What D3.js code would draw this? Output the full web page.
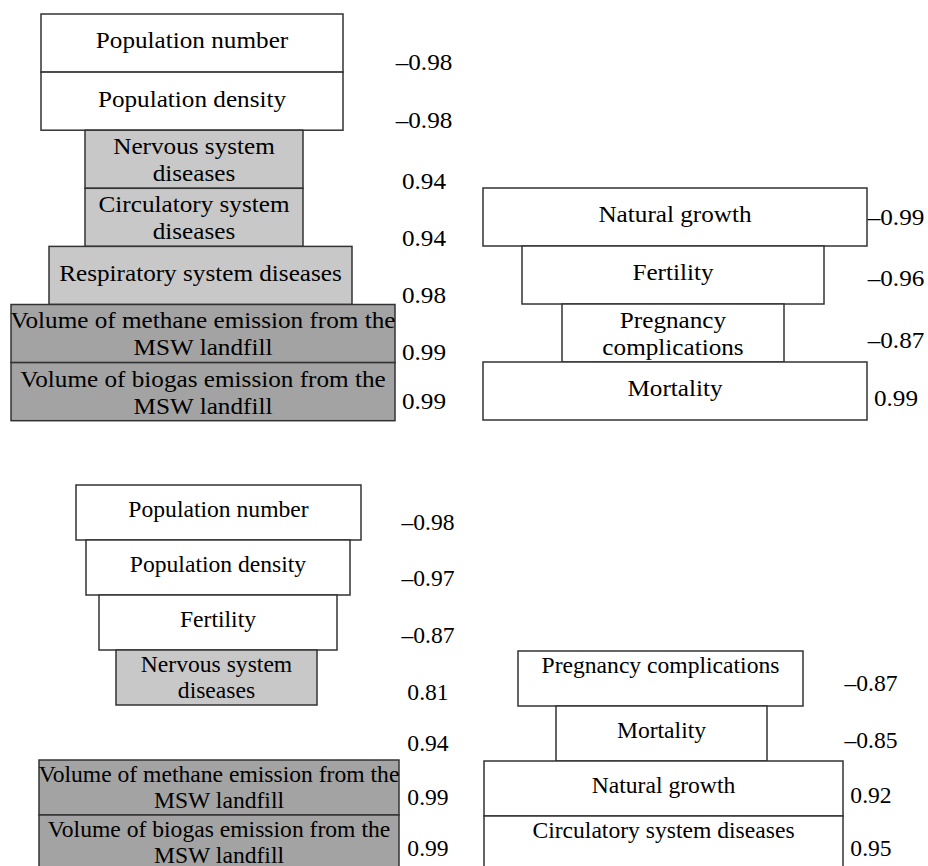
<!DOCTYPE html>
<html>
<head>
<meta charset="utf-8">
<script src="https://cdn.jsdelivr.net/npm/d3@7"></script>
<style>
  body { margin: 0; background: #fff; }
  svg text { font-family: "Liberation Serif", "Times New Roman", serif; fill: #000; }
</style>
</head>
<body>
<div id="chart"></div>
<script>
// data: one set of arrays per block (labels split into lines, correlation, kind)
var tlLabels = [["Population number"], ["Population density"], ["Nervous system", "diseases"],
    ["Circulatory system", "diseases"], ["Respiratory system diseases"],
    ["Volume of methane emission from the", "MSW landfill"], ["Volume of biogas emission from the", "MSW landfill"]];
var tlValues = [-0.98, -0.98, 0.94, 0.94, 0.98, 0.99, 0.99];
var tlKinds = ["demo", "demo", "disease", "disease", "disease", "emission", "emission"];

var trLabels = [["Natural growth"], ["Fertility"], ["Pregnancy", "complications"], ["Mortality"]];
var trValues = [-0.99, -0.96, -0.87, 0.99];
var trKinds = ["demo", "demo", "demo", "demo"];

var blLabels = [["Population number"], ["Population density"], ["Fertility"], ["Nervous system", "diseases"],
    null, ["Volume of methane emission from the", "MSW landfill"], ["Volume of biogas emission from the", "MSW landfill"]];
var blValues = [-0.98, -0.97, -0.87, 0.81, 0.94, 0.99, 0.99];
var blKinds = ["demo", "demo", "demo", "disease", null, "emission", "emission"];

var brLabels = [["Pregnancy complications", ""], ["Mortality"], ["Natural growth"], ["Circulatory system diseases", ""]];
var brValues = [-0.87, -0.85, 0.92, 0.95];
var brKinds = ["demo", "demo", "demo", "demo"];

// layout of each block (pixels)
var layout = [
  {labels: tlLabels, values: tlValues, kinds: tlKinds, top: 14, step: 58.1, font: 24, lead: 27, valueX: 424, valueDy: [48, 48, 50, 49, 48, 47, 38],
   extents: [[41, 343], [41, 343], [85, 303], [85, 303], [49, 352], [11, 395], [11, 395]]},
  {labels: trLabels, values: trValues, kinds: trKinds, top: 188, step: 58, font: 24, lead: 27, valueX: 896, valueDy: [29, 32, 36, 36],
   extents: [[483, 867], [522, 824], [562, 784], [483, 867]]},
  {labels: blLabels, values: blValues, kinds: blKinds, top: 485, step: 55, font: 22.5, lead: 26, valueX: 428, valueDy: [37, 38, 40, 42, 38, 37, 33],
   extents: [[76, 361], [86, 350], [99, 337], [116, 317], null, [39, 399], [39, 399]]},
  {labels: brLabels, values: brValues, kinds: brKinds, top: 651, step: 55, font: 22.5, lead: 26, valueX: 871, valueDy: [32, 34, 34, 32],
   extents: [[518, 803], [556, 767], [484, 843], [484, 843]]}
];

var stretch = 1.05; // the scanned text is a little wider than the font

var fill = d3.scaleOrdinal()
    .domain(["demo", "disease", "emission"])
    .range(["#ffffff", "#c8c8c8", "#a3a3a3"]);

function fmt(v) {
    return (v < 0 ? "\u2013" : "") + d3.format(".2f")(Math.abs(v));
}

var width = 928, height = 866;
var svg = d3.select("#chart").append("svg")
    .attr("width", width)
    .attr("height", height);

var x = d3.scaleLinear().domain([0, width]).range([0, width]);

layout.forEach(function(p) {
    var n = p.values.length;
    var y = d3.scaleBand()
        .domain(d3.range(n))
        .range([p.top, p.top + n * p.step])
        .padding(0);

    var g = svg.append("g");

    var rows = d3.range(n).map(function(i) {
        return {i: i, label: p.labels[i], value: p.values[i], kind: p.kinds[i], ext: p.extents[i]};
    });

    var boxes = g.selectAll("g.box")
        .data(rows.filter(function(d) { return d.label; }))
        .enter()
        .append("g")
        .attr("class", "box");

    boxes.append("rect")
        .attr("x", function(d) { return x(d.ext[0]); })
        .attr("y", function(d) { return y(d.i); })
        .attr("width", function(d) { return x(d.ext[1]) - x(d.ext[0]); })
        .attr("height", y.bandwidth())
        .style("fill", function(d) { return fill(d.kind); })
        .style("stroke", "#333")
        .style("stroke-width", 1.5);

    boxes.each(function(d) {
        var cx = (x(d.ext[0]) + x(d.ext[1])) / 2;
        var cy = y(d.i) + y.bandwidth() / 2;
        var lines = d.label;
        var start = lines.length === 1 ? cy - 3 : cy - (lines.length - 1) * p.lead / 2;
        d3.select(this).append("g")
            .attr("transform", "translate(" + cx + ",0) scale(" + stretch + ",1)")
            .selectAll("text")
            .data(lines)
            .enter()
            .append("text")
            .attr("x", 0)
            .attr("y", function(t, k) { return start + k * p.lead; })
            .attr("dy", "0.35em")
            .attr("text-anchor", "middle")
            .style("font-size", p.font + "px")
            .text(function(t) { return t; });
    });

    g.append("g")
        .attr("transform", "translate(" + x(p.valueX) + ",0) scale(" + stretch + ",1)")
        .selectAll("text.value")
        .data(rows)
        .enter()
        .append("text")
        .attr("class", "value")
        .attr("x", 0)
        .attr("y", function(d) { return y(d.i) + p.valueDy[d.i]; })
        .attr("dy", "0.35em")
        .attr("text-anchor", "middle")
        .style("font-size", p.font + "px")
        .text(function(d) { return fmt(d.value); });
});
</script>
</body>
</html>
